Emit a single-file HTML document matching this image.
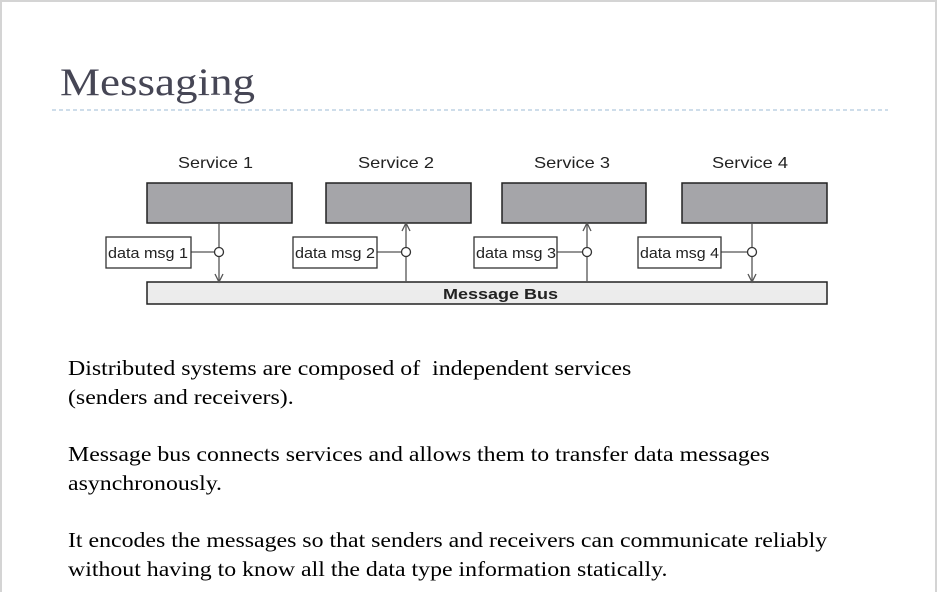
<!DOCTYPE html>
<html><head><style>
html,body{margin:0;padding:0;background:#fff;}
body{width:937px;height:592px;overflow:hidden;position:relative;}
.t{position:absolute;left:68px;font-family:"Liberation Serif",serif;font-size:21px;color:#000;line-height:29px;transform:scaleX(1.135);transform-origin:0 0;white-space:nowrap;}
</style></head><body>
<svg width="937" height="592" style="position:absolute;left:0;top:0">
<rect x="1" y="1" width="935" height="595" fill="none" stroke="#d4d4d4" stroke-width="2"/>
<text x="60" y="95" font-family="Liberation Serif,serif" font-size="39" fill="#464655" textLength="195" lengthAdjust="spacingAndGlyphs">Messaging</text>
<line x1="52" y1="110" x2="888" y2="110" stroke="#9dbbd6" stroke-width="1" stroke-dasharray="4,3"/>
<g font-family="Liberation Sans,sans-serif" font-size="16" fill="#222">
<text x="178" y="168" textLength="75" lengthAdjust="spacingAndGlyphs">Service 1</text>
<text x="358" y="168" textLength="76" lengthAdjust="spacingAndGlyphs">Service 2</text>
<text x="534" y="168" textLength="76" lengthAdjust="spacingAndGlyphs">Service 3</text>
<text x="712" y="168" textLength="76" lengthAdjust="spacingAndGlyphs">Service 4</text>
</g>
<g fill="#a5a5a9" stroke="#222" stroke-width="1.5">
<rect x="147" y="183" width="145" height="40"/><rect x="326" y="183" width="145" height="40"/>
<rect x="502" y="183" width="144" height="40"/><rect x="682" y="183" width="145" height="40"/>
</g>
<rect x="147" y="282" width="680" height="22" fill="#ececec" stroke="#222" stroke-width="1.5"/>
<text x="443" y="299" font-family="Liberation Sans,sans-serif" font-size="15" font-weight="bold" fill="#222" textLength="115" lengthAdjust="spacingAndGlyphs">Message Bus</text>
<g stroke="#555" stroke-width="1.3" fill="none">
<line x1="219" y1="223" x2="219" y2="282"/><polyline points="215,274 219,282 223,274"/>
<line x1="406" y1="223" x2="406" y2="282"/><polyline points="402,231 406,223 410,231"/>
<line x1="587" y1="223" x2="587" y2="282"/><polyline points="583,231 587,223 591,231"/>
<line x1="752" y1="223" x2="752" y2="282"/><polyline points="748,274 752,282 756,274"/>
<line x1="191" y1="252" x2="215" y2="252"/><line x1="377" y1="252" x2="402" y2="252"/>
<line x1="557" y1="252" x2="583" y2="252"/><line x1="721" y1="252" x2="748" y2="252"/>
</g>
<g fill="#fff" stroke="#333" stroke-width="1.3">
<circle cx="219" cy="252" r="4.5"/><circle cx="406" cy="252" r="4.5"/>
<circle cx="587" cy="252" r="4.5"/><circle cx="752" cy="252" r="4.5"/>
<rect x="106" y="237" width="85" height="31"/><rect x="293" y="237" width="84" height="31"/>
<rect x="474" y="237" width="83" height="31"/><rect x="638" y="237" width="83" height="31"/>
</g>
<g font-family="Liberation Sans,sans-serif" font-size="15" fill="#222">
<text x="108" y="258" textLength="80" lengthAdjust="spacingAndGlyphs">data msg 1</text>
<text x="295" y="258" textLength="80" lengthAdjust="spacingAndGlyphs">data msg 2</text>
<text x="476" y="258" textLength="80" lengthAdjust="spacingAndGlyphs">data msg 3</text>
<text x="640" y="258" textLength="79" lengthAdjust="spacingAndGlyphs">data msg 4</text>
</g>
</svg>
<div class="t" style="top:354px">Distributed systems are composed of &nbsp;independent services<br>(senders and receivers).</div>
<div class="t" style="top:440px">Message bus connects services and allows them to transfer data messages<br>asynchronously.</div>
<div class="t" style="top:526px">It encodes the messages so that senders and receivers can communicate reliably<br>without having to know all the data type information statically.</div>
</body></html>
